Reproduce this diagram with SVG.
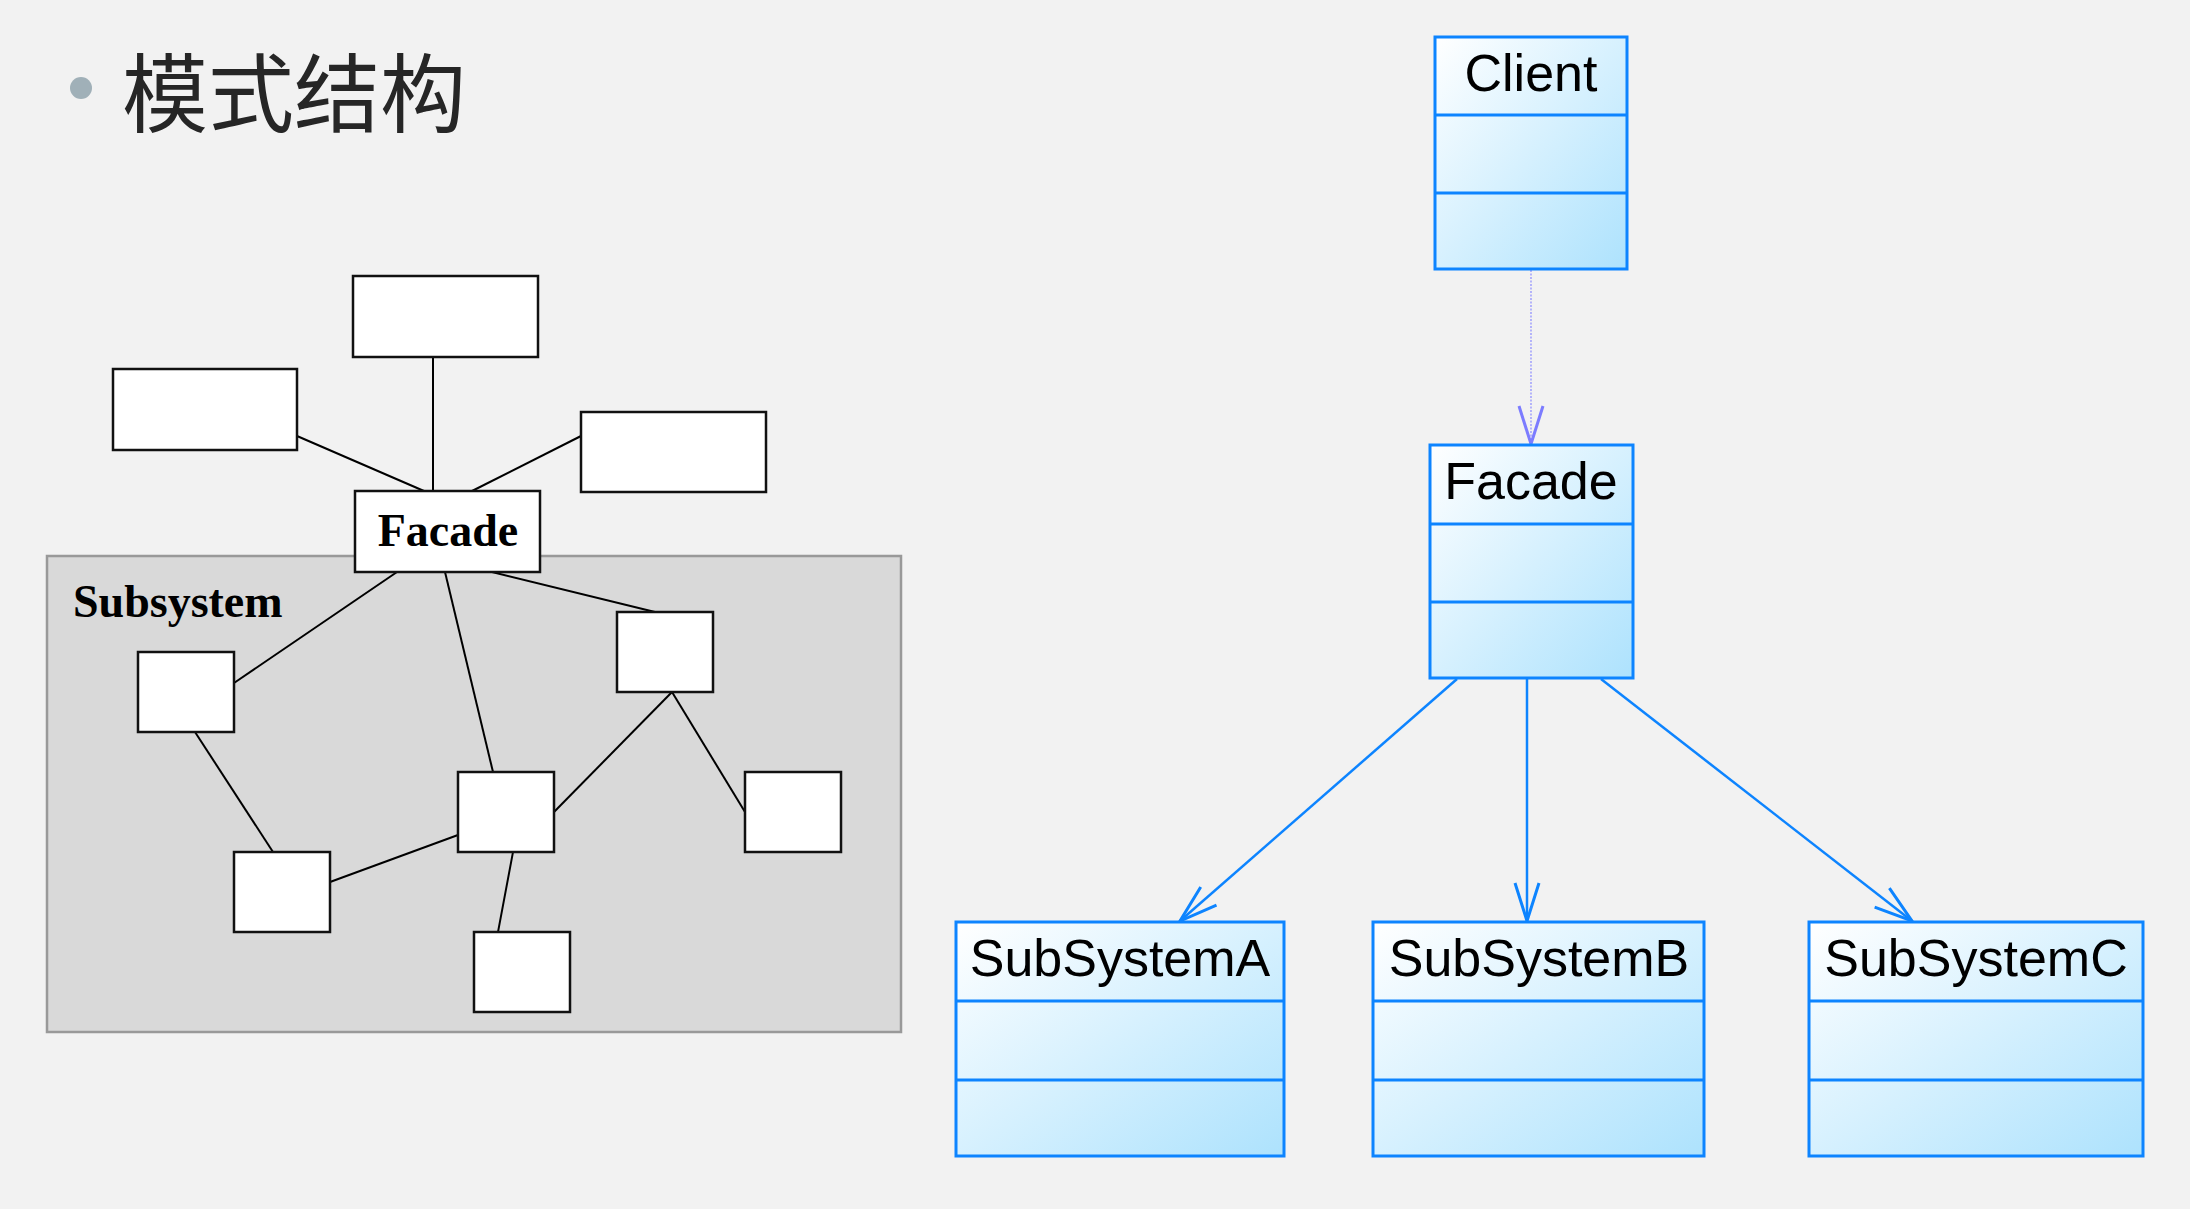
<svg xmlns="http://www.w3.org/2000/svg" width="2190" height="1209" viewBox="0 0 2190 1209">
<defs>
<linearGradient id="cls" x1="0" y1="0" x2="1" y2="1">
<stop offset="0" stop-color="#ffffff"/>
<stop offset="1" stop-color="#ade2fd"/>
</linearGradient>
<marker id="ab" markerUnits="userSpaceOnUse" markerWidth="44" markerHeight="28" refX="38" refY="12" orient="auto" overflow="visible">
<path d="M0,0 L38,12 L0,24" fill="none" stroke="#0d84ff" stroke-width="3"/>
</marker>
<marker id="ap" markerUnits="userSpaceOnUse" markerWidth="44" markerHeight="28" refX="38" refY="12" orient="auto" overflow="visible">
<path d="M0,0 L38,12 L0,24" fill="none" stroke="#7c7cff" stroke-width="3"/>
</marker>
<style>
.bx{fill:#ffffff;stroke:#111111;stroke-width:2.5}
.ln{stroke:#000000;stroke-width:2;fill:none}
.lbl{font-family:"Liberation Serif","Times New Roman",serif;font-weight:bold;font-size:46px;fill:#000}
.uml{fill:url(#cls);stroke:#0d84ff;stroke-width:3}
.div{stroke:#0d84ff;stroke-width:3}
.ut{font-family:"Liberation Sans",Arial,sans-serif;font-size:52px;fill:#000;text-anchor:middle}
.bl{stroke:#0d84ff;stroke-width:2.5;fill:none}
</style>
</defs>
<rect width="2190" height="1209" fill="#f2f2f2"/>

<g id="title">
<circle cx="81" cy="88" r="11" fill="#a0b0b8"/>
<text x="122" y="126" font-family="'Noto Sans CJK SC',sans-serif" font-size="86" fill="#262626">模式结构</text>
</g>

<g id="subsystem">
<rect x="47" y="556" width="854" height="476" fill="#d9d9d9" stroke="#999999" stroke-width="2.5"/>
<text class="lbl" x="73" y="617">Subsystem</text>
</g>

<g id="connectors-left">
<line class="ln" x1="433" y1="357" x2="433" y2="491"/>
<line class="ln" x1="297" y1="436" x2="424" y2="491"/>
<line class="ln" x1="581" y1="436" x2="472" y2="491"/>
<line class="ln" x1="397" y1="572" x2="234" y2="683"/>
<line class="ln" x1="445" y1="572" x2="493" y2="772"/>
<line class="ln" x1="492" y1="572" x2="655" y2="612"/>
<line class="ln" x1="195" y1="732" x2="273" y2="852"/>
<line class="ln" x1="330" y1="882" x2="458" y2="835"/>
<line class="ln" x1="554" y1="812" x2="672" y2="692"/>
<line class="ln" x1="672" y1="692" x2="745" y2="812"/>
<line class="ln" x1="513" y1="852" x2="498" y2="932"/>
</g>

<g id="client-top"><rect class="bx" x="353" y="276" width="185" height="81"/></g>
<g id="client-left"><rect class="bx" x="113" y="369" width="184" height="81"/></g>
<g id="client-right"><rect class="bx" x="581" y="412" width="185" height="80"/></g>
<g id="facade-left">
<rect class="bx" x="355" y="491" width="185" height="81"/>
<text class="lbl" x="448" y="546" text-anchor="middle">Facade</text>
</g>
<g id="sub1"><rect class="bx" x="138" y="652" width="96" height="80"/></g>
<g id="sub2"><rect class="bx" x="617" y="612" width="96" height="80"/></g>
<g id="sub3"><rect class="bx" x="458" y="772" width="96" height="80"/></g>
<g id="sub4"><rect class="bx" x="745" y="772" width="96" height="80"/></g>
<g id="sub5"><rect class="bx" x="234" y="852" width="96" height="80"/></g>
<g id="sub6"><rect class="bx" x="474" y="932" width="96" height="80"/></g>

<g id="connectors-uml">
<line x1="1531" y1="270" x2="1531" y2="444" stroke="#8a8aff" stroke-width="1.2" stroke-dasharray="2,1.5"/>
<path d="M1531,400 L1531,444" stroke="none" fill="none" marker-end="url(#ap)"/>
<line class="bl" x1="1457" y1="679" x2="1180" y2="921" marker-end="url(#ab)"/>
<line class="bl" x1="1527" y1="679" x2="1527" y2="921" marker-end="url(#ab)"/>
<line class="bl" x1="1601" y1="679" x2="1912" y2="921" marker-end="url(#ab)"/>
</g>

<g id="Client">
<rect class="uml" x="1435" y="37" width="192" height="232"/>
<line class="div" x1="1435" y1="115" x2="1627" y2="115"/>
<line class="div" x1="1435" y1="193" x2="1627" y2="193"/>
<text class="ut" x="1531" y="91">Client</text>
</g>
<g id="Facade">
<rect class="uml" x="1430" y="445" width="203" height="233"/>
<line class="div" x1="1430" y1="524" x2="1633" y2="524"/>
<line class="div" x1="1430" y1="602" x2="1633" y2="602"/>
<text class="ut" x="1531" y="499">Facade</text>
</g>
<g id="SubSystemA">
<rect class="uml" x="956" y="922" width="328" height="234"/>
<line class="div" x1="956" y1="1001" x2="1284" y2="1001"/>
<line class="div" x1="956" y1="1080" x2="1284" y2="1080"/>
<text class="ut" x="1120" y="976">SubSystemA</text>
</g>
<g id="SubSystemB">
<rect class="uml" x="1373" y="922" width="331" height="234"/>
<line class="div" x1="1373" y1="1001" x2="1704" y2="1001"/>
<line class="div" x1="1373" y1="1080" x2="1704" y2="1080"/>
<text class="ut" x="1539" y="976">SubSystemB</text>
</g>
<g id="SubSystemC">
<rect class="uml" x="1809" y="922" width="334" height="234"/>
<line class="div" x1="1809" y1="1001" x2="2143" y2="1001"/>
<line class="div" x1="1809" y1="1080" x2="2143" y2="1080"/>
<text class="ut" x="1976" y="976">SubSystemC</text>
</g>
</svg>
